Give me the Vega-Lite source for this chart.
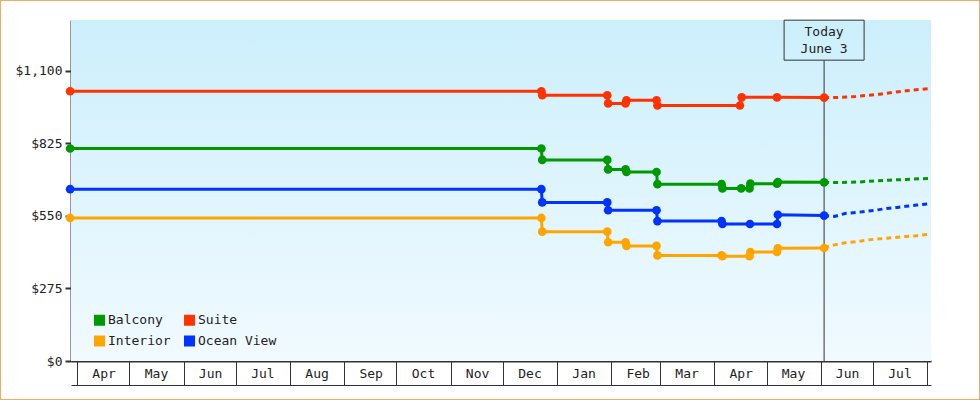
{
  "$schema": "https://vega.github.io/schema/vega-lite/v6.json",
  "width": 980,
  "height": 400,
  "autosize": "none",
  "padding": 0,
  "background": "white",
  "config": {
    "view": {"stroke": "#E9AE6B", "strokeWidth": 2, "fill": "white"},
    "font": "DejaVu Sans Mono",
    "axis": {"grid": false, "labelFont": "DejaVu Sans Mono", "labelFontSize": 13, "labelColor": "#222", "domainColor": "#333", "tickColor": "#333"}
  },
  "datasets": {
    "prices": [
      {"r": "Suite", "k": "a", "d": "2022-03-28T00:00", "p": 1022},
      {"r": "Suite", "k": "a", "d": "2022-12-23T00:00", "p": 1022},
      {"r": "Suite", "k": "a", "d": "2022-12-23T12:00", "p": 1007},
      {"r": "Suite", "k": "a", "d": "2023-01-29T18:00", "p": 1007},
      {"r": "Suite", "k": "a", "d": "2023-01-30T06:00", "p": 976},
      {"r": "Suite", "k": "a", "d": "2023-02-09T06:00", "p": 976},
      {"r": "Suite", "k": "a", "d": "2023-02-09T18:00", "p": 988},
      {"r": "Suite", "k": "a", "d": "2023-02-27T00:00", "p": 988},
      {"r": "Suite", "k": "a", "d": "2023-02-27T12:00", "p": 968},
      {"r": "Suite", "k": "a", "d": "2023-04-15T18:00", "p": 968},
      {"r": "Suite", "k": "a", "d": "2023-04-16T18:00", "p": 999},
      {"r": "Suite", "k": "a", "d": "2023-05-07T00:00", "p": 999},
      {"r": "Suite", "k": "a", "d": "2023-06-03T00:00", "p": 998},
      {"r": "Suite", "k": "f", "d": "2023-06-03T00:00", "p": 998},
      {"r": "Suite", "k": "f", "d": "2023-06-09T00:00", "p": 998},
      {"r": "Suite", "k": "f", "d": "2023-06-21T00:00", "p": 1002},
      {"r": "Suite", "k": "f", "d": "2023-07-05T00:00", "p": 1011},
      {"r": "Suite", "k": "f", "d": "2023-07-20T00:00", "p": 1024},
      {"r": "Suite", "k": "f", "d": "2023-08-02T00:00", "p": 1032},
      {"r": "Balcony", "k": "a", "d": "2022-03-28T00:00", "p": 805},
      {"r": "Balcony", "k": "a", "d": "2022-12-23T00:00", "p": 805},
      {"r": "Balcony", "k": "a", "d": "2022-12-23T12:00", "p": 762},
      {"r": "Balcony", "k": "a", "d": "2023-01-29T18:00", "p": 762},
      {"r": "Balcony", "k": "a", "d": "2023-01-30T06:00", "p": 726},
      {"r": "Balcony", "k": "a", "d": "2023-02-09T06:00", "p": 726},
      {"r": "Balcony", "k": "a", "d": "2023-02-09T18:00", "p": 716},
      {"r": "Balcony", "k": "a", "d": "2023-02-27T00:00", "p": 716},
      {"r": "Balcony", "k": "a", "d": "2023-02-27T12:00", "p": 670},
      {"r": "Balcony", "k": "a", "d": "2023-04-05T06:00", "p": 670},
      {"r": "Balcony", "k": "a", "d": "2023-04-05T18:00", "p": 654},
      {"r": "Balcony", "k": "a", "d": "2023-04-16T12:00", "p": 654},
      {"r": "Balcony", "k": "a", "d": "2023-04-21T06:00", "p": 654},
      {"r": "Balcony", "k": "a", "d": "2023-04-21T18:00", "p": 672},
      {"r": "Balcony", "k": "a", "d": "2023-05-07T00:00", "p": 672},
      {"r": "Balcony", "k": "a", "d": "2023-05-07T12:00", "p": 678},
      {"r": "Balcony", "k": "a", "d": "2023-06-03T00:00", "p": 677},
      {"r": "Balcony", "k": "f", "d": "2023-06-03T00:00", "p": 677},
      {"r": "Balcony", "k": "f", "d": "2023-06-09T00:00", "p": 676},
      {"r": "Balcony", "k": "f", "d": "2023-06-22T00:00", "p": 678},
      {"r": "Balcony", "k": "f", "d": "2023-07-10T00:00", "p": 685},
      {"r": "Balcony", "k": "f", "d": "2023-07-20T00:00", "p": 688},
      {"r": "Balcony", "k": "f", "d": "2023-08-02T00:00", "p": 692},
      {"r": "Ocean View", "k": "a", "d": "2022-03-28T00:00", "p": 651},
      {"r": "Ocean View", "k": "a", "d": "2022-12-23T00:00", "p": 651},
      {"r": "Ocean View", "k": "a", "d": "2022-12-23T12:00", "p": 601},
      {"r": "Ocean View", "k": "a", "d": "2023-01-29T18:00", "p": 601},
      {"r": "Ocean View", "k": "a", "d": "2023-01-30T06:00", "p": 571},
      {"r": "Ocean View", "k": "a", "d": "2023-02-27T00:00", "p": 571},
      {"r": "Ocean View", "k": "a", "d": "2023-02-27T12:00", "p": 530},
      {"r": "Ocean View", "k": "a", "d": "2023-04-05T06:00", "p": 530},
      {"r": "Ocean View", "k": "a", "d": "2023-04-05T18:00", "p": 519},
      {"r": "Ocean View", "k": "a", "d": "2023-04-21T12:00", "p": 519},
      {"r": "Ocean View", "k": "a", "d": "2023-05-07T00:00", "p": 519},
      {"r": "Ocean View", "k": "a", "d": "2023-05-07T12:00", "p": 554},
      {"r": "Ocean View", "k": "a", "d": "2023-06-03T00:00", "p": 551},
      {"r": "Ocean View", "k": "f", "d": "2023-06-03T00:00", "p": 551},
      {"r": "Ocean View", "k": "f", "d": "2023-06-09T00:00", "p": 548},
      {"r": "Ocean View", "k": "f", "d": "2023-06-15T00:00", "p": 559},
      {"r": "Ocean View", "k": "f", "d": "2023-06-22T00:00", "p": 563},
      {"r": "Ocean View", "k": "f", "d": "2023-06-27T00:00", "p": 567},
      {"r": "Ocean View", "k": "f", "d": "2023-07-03T00:00", "p": 572},
      {"r": "Ocean View", "k": "f", "d": "2023-07-09T00:00", "p": 578},
      {"r": "Ocean View", "k": "f", "d": "2023-07-15T00:00", "p": 582},
      {"r": "Ocean View", "k": "f", "d": "2023-07-20T00:00", "p": 586},
      {"r": "Ocean View", "k": "f", "d": "2023-07-26T00:00", "p": 591},
      {"r": "Ocean View", "k": "f", "d": "2023-08-02T00:00", "p": 595},
      {"r": "Interior", "k": "a", "d": "2022-03-28T00:00", "p": 542},
      {"r": "Interior", "k": "a", "d": "2022-12-23T00:00", "p": 542},
      {"r": "Interior", "k": "a", "d": "2022-12-23T12:00", "p": 490},
      {"r": "Interior", "k": "a", "d": "2023-01-29T18:00", "p": 490},
      {"r": "Interior", "k": "a", "d": "2023-01-30T06:00", "p": 450},
      {"r": "Interior", "k": "a", "d": "2023-02-09T06:00", "p": 450},
      {"r": "Interior", "k": "a", "d": "2023-02-09T18:00", "p": 436},
      {"r": "Interior", "k": "a", "d": "2023-02-27T00:00", "p": 436},
      {"r": "Interior", "k": "a", "d": "2023-02-27T12:00", "p": 400},
      {"r": "Interior", "k": "a", "d": "2023-04-05T06:00", "p": 400},
      {"r": "Interior", "k": "a", "d": "2023-04-05T18:00", "p": 397},
      {"r": "Interior", "k": "a", "d": "2023-04-21T06:00", "p": 397},
      {"r": "Interior", "k": "a", "d": "2023-04-21T18:00", "p": 413},
      {"r": "Interior", "k": "a", "d": "2023-05-07T00:00", "p": 413},
      {"r": "Interior", "k": "a", "d": "2023-05-07T12:00", "p": 427},
      {"r": "Interior", "k": "a", "d": "2023-06-03T00:00", "p": 428},
      {"r": "Interior", "k": "f", "d": "2023-06-03T00:00", "p": 430},
      {"r": "Interior", "k": "f", "d": "2023-06-09T00:00", "p": 440},
      {"r": "Interior", "k": "f", "d": "2023-06-15T00:00", "p": 448},
      {"r": "Interior", "k": "f", "d": "2023-06-22T00:00", "p": 452},
      {"r": "Interior", "k": "f", "d": "2023-06-27T00:00", "p": 458},
      {"r": "Interior", "k": "f", "d": "2023-07-03T00:00", "p": 462},
      {"r": "Interior", "k": "f", "d": "2023-07-09T00:00", "p": 465},
      {"r": "Interior", "k": "f", "d": "2023-07-15T00:00", "p": 469},
      {"r": "Interior", "k": "f", "d": "2023-07-20T00:00", "p": 472},
      {"r": "Interior", "k": "f", "d": "2023-07-26T00:00", "p": 475},
      {"r": "Interior", "k": "f", "d": "2023-08-02T00:00", "p": 480}
    ],
    "today": [{"d": "2023-06-03T00:00", "top": 1139, "mid": 1215.6, "base": 0}],
    "frame": [{"d0": "2022-03-28T12:00", "d1": "2023-08-03T06:00", "p0": 0, "p1": 1292}]
  },
  "resolve": {"axis": {"x": "independent"}},
  "layer": [
    {
      "data": {"name": "frame"},
      "mark": {"type": "rect", "fill": {"gradient": "linear", "x1": 0, "y1": 0, "x2": 0, "y2": 1, "stops": [{"offset": 0, "color": "#CCEFFC"}, {"offset": 1, "color": "#F1FAFF"}]}},
      "encoding": {
        "x": {"field": "d0", "type": "temporal", "axis": null, "scale": {"domain": [{"year": 2022, "month": "mar", "date": 28, "hours": 12}, {"year": 2023, "month": "aug", "date": 3, "hours": 6}], "range": [71, 931]}},
        "x2": {"field": "d1"},
        "y": {"field": "p0", "type": "quantitative", "title": null, "scale": {"domain": [0, 1292], "range": [361, 20], "nice": false, "zero": false}},
        "y2": {"field": "p1"}
      }
    },
    {
      "data": {"name": "today"},
      "mark": {"type": "rule", "color": "#333", "strokeWidth": 1},
      "encoding": {
        "x": {"field": "d", "type": "temporal", "axis": null},
        "y": {"field": "base", "type": "quantitative", "title": null},
        "y2": {"field": "top"}
      }
    },
    {
      "data": {"name": "prices"},
      "transform": [{"filter": "datum.k == 'f'"}],
      "mark": {"type": "line", "strokeWidth": 3, "strokeDash": [5, 4]},
      "encoding": {
        "x": {"field": "d", "type": "temporal", "axis": {"orient": "bottom", "offset": -15, "ticks": false, "labels": false, "domain": true, "domainWidth": 1, "domainColor": "#333", "grid": false, "title": null}},
        "y": {"field": "p", "type": "quantitative", "title": null},
        "color": {"field": "r", "type": "nominal", "scale": {"domain": ["Balcony", "Interior", "Suite", "Ocean View"], "range": ["#009900", "#FFA500", "#FF3300", "#0033FF"]}},
        "detail": {"field": "r"}
      }
    },
    {
      "data": {"name": "prices"},
      "transform": [{"filter": "datum.k == 'a'"}],
      "mark": {"type": "line", "strokeWidth": 3},
      "encoding": {
        "x": {"field": "d", "type": "temporal", "axis": {
          "orient": "bottom", "offset": -39, "title": null, "grid": false,
          "values": [
            {"year": 2022, "month": "apr", "date": 1}, {"year": 2022, "month": "may", "date": 1}, {"year": 2022, "month": "jun", "date": 1},
            {"year": 2022, "month": "jul", "date": 1}, {"year": 2022, "month": "aug", "date": 1}, {"year": 2022, "month": "sep", "date": 1},
            {"year": 2022, "month": "oct", "date": 1}, {"year": 2022, "month": "nov", "date": 1}, {"year": 2022, "month": "dec", "date": 1},
            {"year": 2023, "month": "jan", "date": 1}, {"year": 2023, "month": "feb", "date": 1}, {"year": 2023, "month": "mar", "date": 1},
            {"year": 2023, "month": "apr", "date": 1}, {"year": 2023, "month": "may", "date": 1}, {"year": 2023, "month": "jun", "date": 1},
            {"year": 2023, "month": "jul", "date": 1}, {"year": 2023, "month": "aug", "date": 1}
          ],
          "labelExpr": "datum.value >= datetime(2023, 7, 1) ? '' : timeFormat(datum.value, '%b')",
          "labelOffset": 26.5, "labelPadding": -12, "labelBaseline": "middle", "labelAlign": "center",
          "labelBound": false, "labelFlush": false, "labelOverlap": false,
          "tickSize": 24, "tickWidth": 1, "domainWidth": 2
        }},
        "y": {"field": "p", "type": "quantitative", "title": null, "axis": {
          "values": [0, 275, 550, 825, 1100], "format": "$,d", "offset": -71, "tickSize": 6, "tickWidth": 2,
          "domainWidth": 2, "labelPadding": 3, "title": null, "grid": false
        }},
        "color": {"field": "r", "type": "nominal"},
        "detail": {"field": "r"}
      }
    },
    {
      "data": {"name": "prices"},
      "transform": [{"filter": "datum.k == 'a'"}],
      "mark": {"type": "point", "filled": true, "size": 75, "opacity": 1, "shape": "circle"},
      "encoding": {
        "x": {"field": "d", "type": "temporal", "axis": null},
        "y": {"field": "p", "type": "quantitative", "title": null},
        "color": {"field": "r", "type": "nominal", "legend": {
          "orient": "none", "legendX": 93, "legendY": 313.5, "columns": 2, "title": null,
          "symbolType": "square", "symbolSize": 121, "symbolStrokeWidth": 0, "symbolOpacity": 1,
          "labelFont": "DejaVu Sans Mono", "labelFontSize": 13, "labelColor": "#222", "labelOffset": 2,
          "rowPadding": 7, "columnPadding": 12, "padding": 0
        }}
      }
    },
    {
      "data": {"name": "today"},
      "mark": {"type": "point", "shape": "M-1,-0.5L1,-0.5L1,0.5L-1,0.5Z", "size": 6400, "filled": false, "stroke": "#333", "strokeWidth": 1, "opacity": 1},
      "encoding": {
        "x": {"field": "d", "type": "temporal", "axis": null},
        "y": {"field": "mid", "type": "quantitative", "title": null}
      }
    },
    {
      "data": {"name": "today"},
      "mark": {"type": "text", "text": ["Today", "June 3"], "lineHeight": 17, "dy": -8.5, "align": "center", "baseline": "middle", "font": "DejaVu Sans Mono", "fontSize": 13, "color": "#222"},
      "encoding": {
        "x": {"field": "d", "type": "temporal", "axis": null},
        "y": {"field": "mid", "type": "quantitative", "title": null}
      }
    }
  ]
}
